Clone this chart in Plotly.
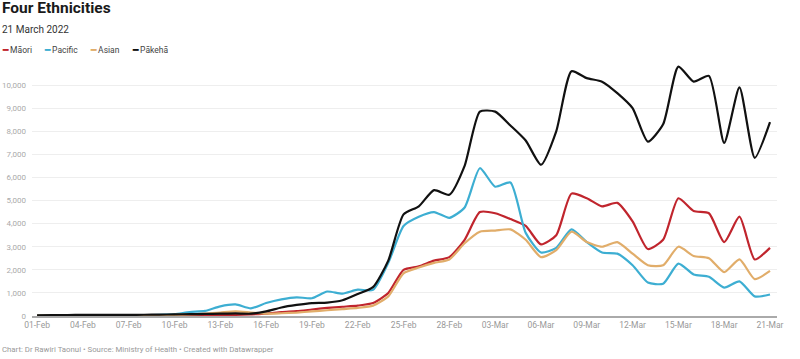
import pandas as pd
import plotly.graph_objects as go

dates = pd.date_range("2022-02-01", "2022-03-21", freq="D")

maori = [10, 10, 15, 15, 15, 20, 20, 20, 25, 30, 30, 35, 40, 50, 70, 100, 170, 210, 280, 350,
         400, 450, 560, 1000, 2000, 2150, 2400, 2550, 3300, 4500, 4450, 4200, 3900, 3100, 3500, 5300,
         5100, 4750, 4900, 4100, 2900, 3300, 5100, 4550, 4450, 3200, 4300, 2450, 2950]
pacific = [20, 20, 25, 25, 30, 30, 35, 40, 50, 80, 170, 220, 420, 500, 330, 560, 720, 810, 770, 1060,
           970, 1140, 1130, 2300, 3900, 4300, 4500, 4250, 4700, 6400, 5600, 5780, 3600, 2750, 2950, 3750,
           3200, 2750, 2700, 2200, 1450, 1400, 2270, 1800, 1700, 1230, 1500, 850, 930]
asian = [15, 15, 20, 20, 25, 25, 30, 35, 40, 50, 70, 100, 150, 200, 150, 100, 120, 150, 200, 250,
         300, 350, 450, 850, 1850, 2100, 2300, 2450, 3150, 3650, 3700, 3750, 3300, 2550, 2850, 3650,
         3200, 3000, 3200, 2700, 2200, 2200, 3000, 2600, 2500, 1900, 2450, 1600, 1950]
pakeha = [30, 40, 40, 50, 50, 50, 50, 55, 60, 70, 80, 90, 100, 110, 100, 200, 370, 480, 560, 580,
          680, 950, 1250, 2400, 4400, 4750, 5450, 5250, 6500, 8850, 8850, 8250, 7600, 6550, 8000, 10600,
          10300, 10150, 9650, 9000, 7550, 8300, 10800, 10150, 10400, 7500, 9900, 6850, 8400]

series = [
    ("Māori", maori, "#c0252d"),
    ("Pacific", pacific, "#3daed2"),
    ("Asian", asian, "#e1ad6a"),
    ("Pākehā", pakeha, "#111111"),
]

y_ticks = list(range(0, 11000, 1000))
y_labels = [f"{v:,}" for v in y_ticks]

fig = go.Figure()
for name, vals, col in series:
    fig.add_trace(go.Scatter(x=dates, y=vals, name=name, mode="lines",
                             line=dict(color=col, width=2.2, shape="spline", smoothing=0.6),
                             showlegend=False))

W, H = 800, 359
L, R, T, B = 32, 23, 62, 42.5

fig.update_layout(
    width=W, height=H,
    margin=dict(l=L, r=R, t=T, b=B, autoexpand=False),
    paper_bgcolor="white", plot_bgcolor="white",
    font=dict(family="Roboto, sans-serif", color="#333"),
    xaxis=dict(
        range=["2022-01-31 16:00", "2022-03-21 11:00"],
        tickformat="%d-%b", tick0="2022-02-01", dtick=3 * 86400000,
        showgrid=False, showline=True, linecolor="#aaaaaa", linewidth=1.5,
        ticks="", tickfont=dict(size=8.5, color="#999999"),
        zeroline=False, fixedrange=True,
    ),
    yaxis=dict(
        range=[0, 11000],
        tickvals=y_ticks, ticktext=y_labels,
        showgrid=True, gridcolor="#eeeeee", gridwidth=1,
        zeroline=False, ticks="", ticklen=0, ticklabelstandoff=5,
        tickfont=dict(size=8, color="#aaaaaa"),
        fixedrange=True,
    ),
)

def px2paper(px):
    return (px - L) / (W - L - R)

def py2paper(py):
    return (H - B - py) / (H - T - B)

fig.add_annotation(text="<b>Four Ethnicities</b>", x=px2paper(0), y=py2paper(8),
                   xref="paper", yref="paper", xanchor="left", yanchor="middle",
                   showarrow=False, font=dict(size=15.5, color="#1a1a1a"))
fig.add_annotation(text="21 March 2022", x=px2paper(0), y=py2paper(29),
                   xref="paper", yref="paper", xanchor="left", yanchor="middle",
                   showarrow=False, font=dict(size=10, color="#333333"))

legend_x = [0, 42, 88, 130]
for (name, vals, col), lx in zip(series, legend_x):
    fig.add_annotation(
        text=f"<span style='color:{col}'><b>━</b></span> {name}",
        x=px2paper(lx), y=py2paper(50), xref="paper", yref="paper",
        xanchor="left", yanchor="middle", showarrow=False,
        font=dict(size=8.5, color="#444444"))

fig.add_annotation(
    text="Chart: Dr Rawiri Taonui • Source: Ministry of Health • Created with Datawrapper",
    x=px2paper(0), y=py2paper(350), xref="paper", yref="paper",
    xanchor="left", yanchor="middle", showarrow=False,
    font=dict(size=7.8, color="#999999"))

fig.write_html("out.html", config={"displayModeBar": False},
               post_script="document.body.style.margin='0';document.body.style.overflow='hidden';")
